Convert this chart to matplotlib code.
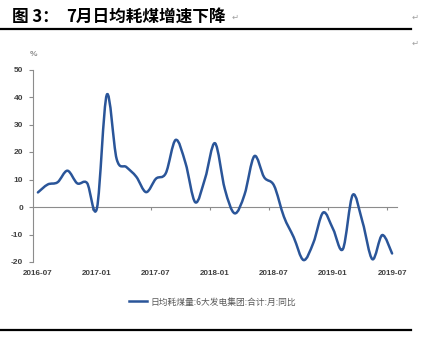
import numpy as np
import pandas as pd
import matplotlib
matplotlib.use('Agg')
import matplotlib.pyplot as plt
from matplotlib.path import Path
from matplotlib.patches import PathPatch
from matplotlib.lines import Line2D

# ---------------- data ----------------
months = [str(p) for p in pd.period_range('2016-07', '2019-07', freq='M')]
values = [5.3, 8.2, 9.0, 13.2, 8.6, 8.7, -0.4, 40.8, 17.5, 14.5, 11.0, 5.4,
          10.3, 12.3, 24.4, 16.0, 1.7, 10.5, 23.2, 6.5, -2.3, 4.5, 18.5, 10.8,
          7.8, -3.5, -11.0, -19.3, -13.0, -2.0, -8.0, -15.3, 4.4, -5.5, -19.0,
          -10.2, -16.9]
yticks = [50, 40, 30, 20, 10, 0, -10, -20]
xlabels = ['2016-07', '2017-01', '2017-07', '2018-01', '2018-07', '2019-01', '2019-07']
series_name = '日均耗煤量:6大发电集团:合计:月:同比'
title_label = '图 3：'
title_text = '7月日均耗煤增速下降'
unit = '%'

# ---------------- figure ----------------
W, H = 438, 353
fig = plt.figure(figsize=(W / 100, H / 100), dpi=100)
ax = fig.add_axes([33 / W, (H - 262) / H, 364 / W, 192.5 / H])

line_color = '#2A5599'
grey = '#8C8C8C'
label_color = '#404040'

x = np.arange(len(values), dtype=float)
y = np.array(values, dtype=float)

# smoothed line (Excel-like Bezier through the points)
P = np.column_stack([x, y])
verts = [tuple(P[0])]
codes = [Path.MOVETO]
n = len(P)
for i in range(n - 1):
    p_prev = P[i - 1] if i > 0 else P[i]
    p0 = P[i]
    p1 = P[i + 1]
    p_next = P[i + 2] if i + 2 < n else P[i + 1]
    c1 = p0 + (p1 - p_prev) / 6.0
    c2 = p1 - (p_next - p0) / 6.0
    verts += [tuple(c1), tuple(c2), tuple(p1)]
    codes += [Path.CURVE4] * 3
patch = PathPatch(Path(verts, codes), facecolor='none', edgecolor=line_color,
                  lw=1.8, capstyle='round', joinstyle='round', zorder=3)
ax.add_patch(patch)

ax.set_xlim(-0.5, len(values) - 0.5)
ax.set_ylim(-20, 50)

for s in ['top', 'right']:
    ax.spines[s].set_visible(False)
ax.spines['left'].set_color(grey)
ax.spines['left'].set_linewidth(0.8)
ax.spines['bottom'].set_position(('data', 0))
ax.spines['bottom'].set_color(grey)
ax.spines['bottom'].set_linewidth(0.8)

ax.set_yticks(yticks)
ax.set_yticklabels([str(v) for v in yticks])
ax.tick_params(axis='y', direction='out', length=3, width=0.8, color=grey,
               pad=4, labelsize=6, labelcolor=label_color)
for lbl in ax.get_yticklabels():
    lbl.set_fontfamily('Liberation Sans')
    lbl.set_fontweight('bold')

ax.set_xticks(np.arange(5.5, len(values), 6))
ax.set_xticklabels([])
ax.tick_params(axis='x', direction='out', length=2.5, width=0.8, color=grey)

for lab in xlabels:
    k = months.index(lab)
    ax.annotate(lab, xy=(k, 0), xycoords=('data', 'axes fraction'),
                xytext=(0, -8), textcoords='offset points', ha='center', va='center',
                fontsize=5.8, color=label_color, fontweight='bold',
                fontfamily='Liberation Sans', annotation_clip=False)

# unit
fig.text(34 / W, (H - 55) / H, unit, fontsize=6, color=grey, ha='center', va='center',
         fontfamily='Liberation Sans', fontweight='bold')

# legend
handle = Line2D([], [], color=line_color, lw=1.8)
fs = 6.3
fig.legend([handle], [series_name], loc='center', bbox_to_anchor=(212.5 / W, (H - 302) / H),
           frameon=False, handlelength=18 / (fs * 100 / 72), handletextpad=0.35,
           prop={'family': ['Noto Sans CJK SC', 'DejaVu Sans'], 'size': fs},
           labelcolor='#595959')

# title and rules
fig.text(12 / W, (H - 17) / H, title_label, fontsize=12, fontweight='bold', color='black',
         va='center', ha='left', family=['Noto Sans CJK SC', 'DejaVu Sans'])
fig.text(66 / W, (H - 17) / H, title_text, fontsize=12, fontweight='bold', color='black',
         va='center', ha='left', family=['Noto Sans CJK SC', 'DejaVu Sans'])
fig.add_artist(Line2D([0, 411 / W], [(H - 29) / H] * 2, color='black', lw=1.6))
fig.add_artist(Line2D([0, 411 / W], [(H - 330) / H] * 2, color='black', lw=1.6))

# paragraph marks
for (px, py) in [(235, 17), (415, 17), (415, 43)]:
    fig.text(px / W, (H - py) / H, '\u21b5', fontsize=6, color='#A0A0A0',
             ha='center', va='center', family='DejaVu Sans')

fig.savefig('out.png', dpi=100)
